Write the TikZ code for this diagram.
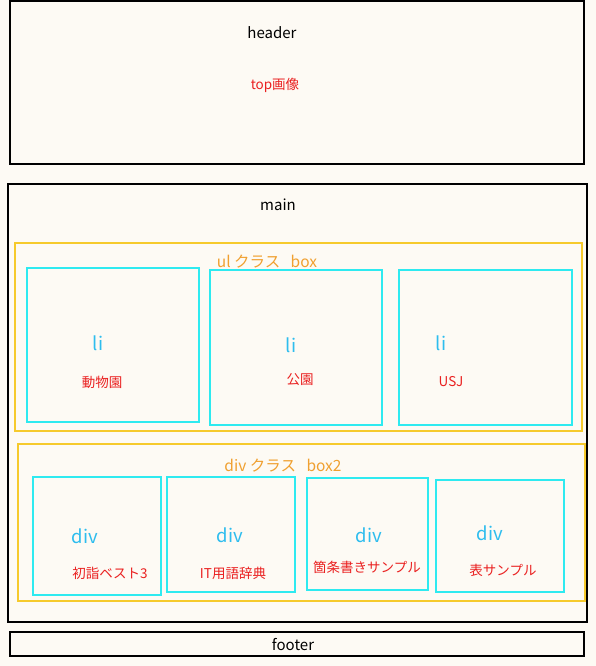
\documentclass[tikz,border=0pt]{standalone}
\usepackage{fontspec}
\setmainfont{Noto Sans CJK JP}
\definecolor{paper}{HTML}{FDFAF4}
\definecolor{boxcyan}{HTML}{2EEAF0}
\definecolor{boxyellow}{HTML}{F6CA2C}
\definecolor{txtorange}{HTML}{F0A030}
\definecolor{txtred}{HTML}{EA2020}
\definecolor{txtblue}{HTML}{2EBDEE}
\begin{document}
\begin{tikzpicture}[x=1pt, y=-1pt,
blackbox/.style={draw=black, line width=1.8pt},
yellowbox/.style={draw=boxyellow, line width=1.5pt},
cyanbox/.style={draw=boxcyan, line width=1.8pt},
tagtext/.style={black, font=\fontsize{15}{17}\selectfont},
classtext/.style={txtorange, font=\fontsize{15.5}{17}\selectfont},
itemtag/.style={txtblue, font=\fontsize{18.5}{20}\selectfont},
itemtext/.style={txtred, font=\fontsize{13.5}{15}\selectfont},
]
\useasboundingbox[fill=paper] (0,0) rectangle (596,666);
%Boxes
\draw[blackbox]  (10,1)    rectangle (584,164);
\draw[blackbox]  (8,184)   rectangle (587,622);
\draw[blackbox]  (10,632)  rectangle (584,656);
\draw[yellowbox] (15,243)  rectangle (582,431);
\draw[yellowbox] (18,444)  rectangle (585,601);
\draw[cyanbox]   (27,268)  rectangle (199,422);
\draw[cyanbox]   (210,270) rectangle (382,425);
\draw[cyanbox]   (399,270) rectangle (572,425);
\draw[cyanbox]   (33,477)  rectangle (161,595);
\draw[cyanbox]   (167,477) rectangle (295,592);
\draw[cyanbox]   (307,478) rectangle (428,590);
\draw[cyanbox]   (436,480) rectangle (564,592);

%Labels
\node[tagtext]   (header) at (272,33)  {header};
\node[itemtext]  (topimg) at (275,85)  {top画像};
\node[tagtext]   (main)   at (278,205) {main};
\node[tagtext]   (footer) at (293,645) {footer};
\node[classtext] (ulbox)  at (267,262) {ul クラス\ \ \ box};
\node[classtext] (divbox) at (283,466) {div クラス\ \ \ box2};

\node[itemtag]  (li1)   at (98,343)  {li};
\node[itemtag]  (li2)   at (291,345) {li};
\node[itemtag]  (li3)   at (441,343) {li};
\node[itemtext] (zoo)   at (102,382) {動物園};
\node[itemtext] (park)  at (300,380) {公園};
\node[itemtext] (usj)   at (451,382) {USJ};

\node[itemtag]  (div1)  at (85,536)  {div};
\node[itemtag]  (div2)  at (230,535) {div};
\node[itemtag]  (div3)  at (369,535) {div};
\node[itemtag]  (div4)  at (490,533) {div};
\node[itemtext] (best)  at (110,573) {初詣ベスト3};
\node[itemtext] (dict)  at (233,573) {IT用語辞典};
\node[itemtext] (list)  at (367,567) {箇条書きサンプル};
\node[itemtext] (table) at (503,570) {表サンプル};
\end{tikzpicture}
\end{document}
